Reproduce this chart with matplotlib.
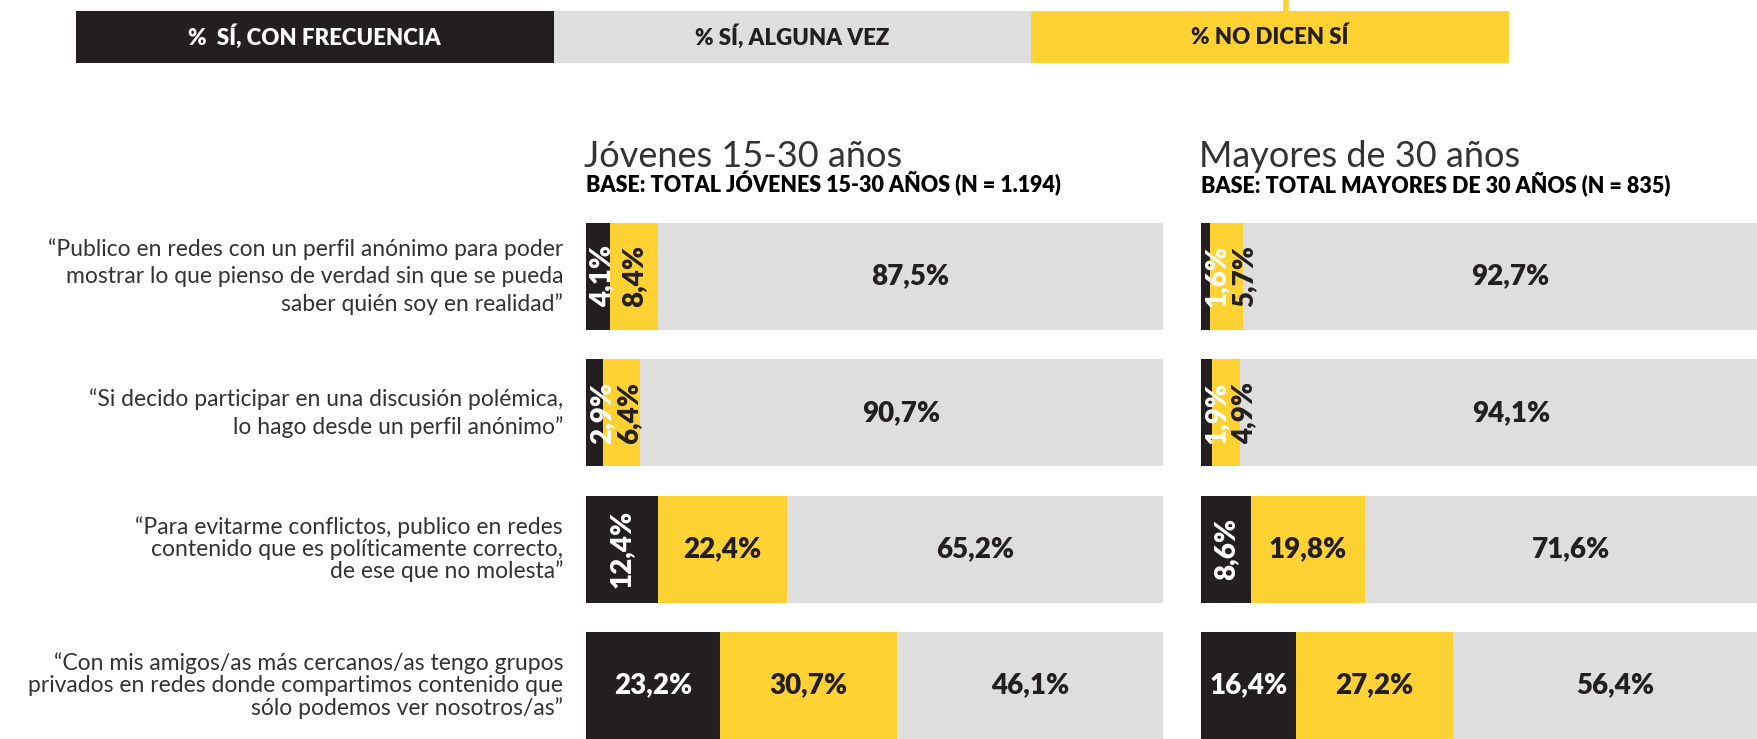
import matplotlib
matplotlib.use("Agg")
import matplotlib.pyplot as plt
import matplotlib.transforms as mtransforms
from matplotlib.lines import Line2D

# data
quotes = [
    "“Publico en redes con un perfil anónimo para poder\nmostrar lo que pienso de verdad sin que se pueda\nsaber quién soy en realidad”",
    "“Si decido participar en una discusión polémica,\nlo hago desde un perfil anónimo”",
    "“Para evitarme conflictos, publico en redes\ncontenido que es políticamente correcto,\nde ese que no molesta”",
    "“Con mis amigos/as más cercanos/as tengo grupos\nprivados en redes donde compartimos contenido que\nsólo podemos ver nosotros/as”",
]
legend_labels = ["%  SÍ, CON FRECUENCIA", "% SÍ, ALGUNA VEZ", "% NO DICEN SÍ"]

titles = ["Jóvenes 15-30 años", "Mayores de 30 años"]
subtitles = ["BASE: TOTAL JÓVENES 15-30 AÑOS (N = 1.194)",
             "BASE: TOTAL MAYORES DE 30 AÑOS (N = 835)"]

jov_frecuencia = [4.1, 2.9, 12.4, 23.2]
jov_segundo = [8.4, 6.4, 22.4, 30.7]
jov_resto = [87.5, 90.7, 65.2, 46.1]

may_frecuencia = [1.6, 1.9, 8.6, 16.4]
may_segundo = [5.7, 4.9, 19.8, 27.2]
may_resto = [92.7, 94.1, 71.6, 56.4]

BLACK = "#231f20"
YELLOW = "#ffd234"
GRAY = "#dedede"
TXT = "#231f20"
FONT = "Lato"

W, H = 1758, 739
fig = plt.figure(figsize=(W / 100, H / 100), dpi=100)


def fx(p):
    return p / W


def fy(p):
    return 1 - p / H


# legend strip on top
lax = fig.add_axes([fx(76), fy(63), fx(1509 - 76), (63 - 11) / H])
leg_colors = [BLACK, GRAY, YELLOW]
leg_txt = ["white", TXT, TXT]
lax.barh([0, 0, 0], [1, 1, 1], left=[0, 1, 2], height=1, color=leg_colors)
for i, lab in enumerate(legend_labels):
    lax.text(i + 0.5, 0, lab, ha="center", va="center", color=leg_txt[i],
             fontsize=16, fontweight="heavy", family=FONT)
lax.set_xlim(0, 3)
lax.set_ylim(-0.5, 0.5)
lax.axis("off")
fig.add_artist(Line2D([fx(1286)] * 2, [fy(0), fy(11)], color=YELLOW, lw=4))

px_per_pct = 5.77
bar_h = 107 / 136.5
rows = [0, 1, 2, 3]


def panel(left_px, s1, s2, s3, title, subtitle):
    ax = fig.add_axes([fx(left_px), 0, fx(577), (739 - 222.7) / H])
    lefts2 = [a for a in s1]
    lefts3 = [a + b for a, b in zip(s1, s2)]
    ax.barh(rows, s1, height=bar_h, color=BLACK)
    ax.barh(rows, s2, left=lefts2, height=bar_h, color=YELLOW)
    ax.barh(rows, s3, left=lefts3, height=bar_h, color=GRAY)
    ax.set_xlim(0, 100)
    ax.set_ylim(3 + bar_h / 2, -bar_h / 2)
    ax.axis("off")

    for r in rows:
        segs = [(0, s1[r], "white"), (lefts2[r], s2[r], TXT), (lefts3[r], s3[r], TXT)]
        prev = None
        for start, val, col in segs:
            lab = f"{val:.1f}%".replace(".", ",")
            cx = start + val / 2
            if val < 15:
                lo = 16 / px_per_pct if prev is None else prev + 27.5 / px_per_pct
                cx = max(cx, lo)
                prev = cx
                ax.text(cx, r, lab, rotation=90, ha="center", va="center",
                        color=col, fontsize=20, fontweight="heavy", family=FONT)
            else:
                ax.text(cx, r, lab, ha="center", va="center",
                        color=col, fontsize=20, fontweight="heavy", family=FONT)

    fig.text(fx(left_px - 2), fy(167), title, fontsize=26, fontweight="normal",
             family=FONT, color="#333333", va="baseline")
    fig.text(fx(left_px), fy(192), subtitle, fontsize=15.5, fontweight="heavy",
             family=FONT, color="black", va="baseline")
    return ax


axl = panel(586, jov_frecuencia, jov_segundo, jov_resto, titles[0], subtitles[0])
axr = panel(1201, may_frecuencia, may_segundo, may_resto, titles[1], subtitles[1])

# question labels, centred on each row
trans = mtransforms.blended_transform_factory(fig.transFigure, axl.transData)
spacing = [1.35, 1.35, 1.05, 1.05]
for r, q in zip(rows, quotes):
    fig.text(fx(563), r, q, transform=trans, ha="right", va="center",
             multialignment="right", linespacing=spacing[r],
             fontsize=16.5, family=FONT, color="#333333")

fig.savefig("out.png", dpi=100, facecolor="white")
